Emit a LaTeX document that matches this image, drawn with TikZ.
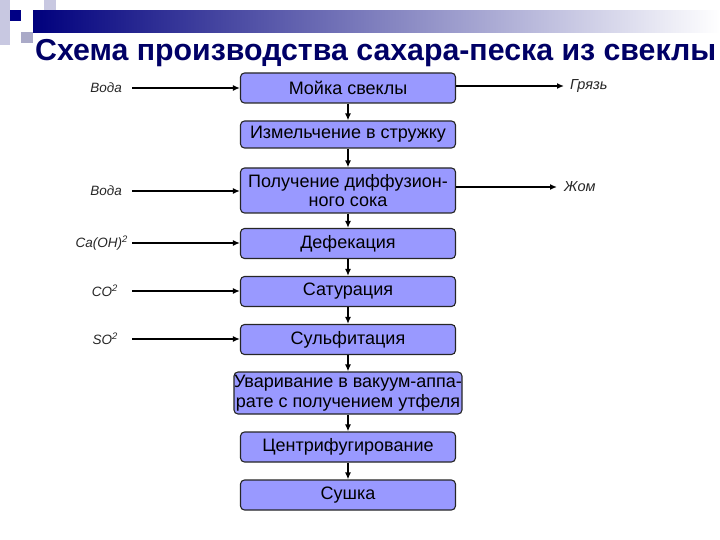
\documentclass[tikz,border=0pt]{standalone}
\usepackage{fontspec}
\setmainfont{Liberation Sans}
\usetikzlibrary{arrows.meta,positioning}
\definecolor{navy}{RGB}{0,0,102}
\definecolor{boxfill}{RGB}{153,153,255}
\definecolor{deco1}{RGB}{200,200,225}
\definecolor{deco2}{RGB}{170,170,200}
\tikzset{
  stepbox/.style={draw=black!85, line width=1.1pt, fill=boxfill, rounded corners=4pt,
    minimum width=215pt, minimum height=30pt, inner sep=1pt, align=center,
    font=\fontsize{18}{19.5}\selectfont},
  inlabel/.style={font=\itshape\fontsize{13.5}{15}\selectfont, text=black!85, inner sep=0pt},
  outlabel/.style={font=\itshape\fontsize{14.5}{16}\selectfont, text=black!85, inner sep=0pt},
  flow/.style={line width=2pt, -{Latex[length=7pt,width=6pt]}},
}
\begin{document}
\begin{tikzpicture}[x=1pt,y=-1pt]
\useasboundingbox (0,0) rectangle (720,540);
% decoration
\fill[deco1] (0,0) rectangle (10,45);
\fill[deco1] (44,0) rectangle (56,11);
\fill[deco2] (21,32) rectangle (33,43);
\shade[left color=navy!85!blue, right color=white] (33,11) rectangle (720,33);
\fill[navy!80!blue] (10,10) rectangle (21,21);
% title
\node[anchor=base west, inner sep=0pt, text=navy, font=\bfseries\fontsize{30.3}{32}\selectfont] (title) at (35,61) {Схема производства сахара-песка из свеклы};
% boxes
\node[stepbox] (b1) at (348,88) {Мойка свеклы};
\node[stepbox, minimum height=27pt] (b2) at (348,134.5) {Измельчение в стружку};
\node[stepbox, minimum height=45pt] (b3) at (348,190.5) {Получение диффузион-\\ного сока};
\node[stepbox] (b4) at (348,243.5) {Дефекация};
\node[stepbox] (b5) at (348,291.5) {Сатурация};
\node[stepbox] (b6) at (348,339.5) {Сульфитация};
\node[stepbox, minimum width=228pt, minimum height=42pt] (b7) at (348,393) {\makebox[0pt][c]{Уваривание в вакуум-аппа-}\\\makebox[0pt][c]{рате с получением утфеля}};
\node[stepbox] (b8) at (348,447) {Центрифугирование};
\node[stepbox] (b9) at (348,495) {Сушка};
% vertical flow
\foreach \a/\b in {b1/b2,b2/b3,b3/b4,b4/b5,b5/b6,b6/b7,b7/b8,b8/b9}
  \draw[flow] (\a.south) -- (\b.north);
% inputs
\node[inlabel, anchor=east] (i1) at (122,88) {Вода};
\node[inlabel, anchor=east] (i2) at (122,191) {Вода};
\node[inlabel, anchor=east] (i3) at (128,243) {Ca(OH)\textsuperscript{2}};
\node[inlabel, anchor=east] (i4) at (118,291) {CO\textsuperscript{2}};
\node[inlabel, anchor=east] (i5) at (118,339) {SO\textsuperscript{2}};
\coordinate (s1) at (132,88);
\coordinate (s2) at (132,191);
\coordinate (s3) at (132,243);
\coordinate (s4) at (132,291);
\coordinate (s5) at (132,339);
\draw[flow] (s1) -- (b1.west);
\draw[flow] (s2) -- (b3.west |- s2);
\draw[flow] (s3) -- (b4.west |- s3);
\draw[flow] (s4) -- (b5.west |- s4);
\draw[flow] (s5) -- (b6.west |- s5);
% outputs
\node[outlabel, anchor=west] (o1) at (570,86) {Грязь};
\node[outlabel, anchor=west] (o2) at (564,187) {Жом};
\draw[flow] (b1.east |- o1) -- ([xshift=-6pt]o1.west);
\draw[flow] (b3.east |- o2) -- ([xshift=-7pt]o2.west);
\end{tikzpicture}
\end{document}
